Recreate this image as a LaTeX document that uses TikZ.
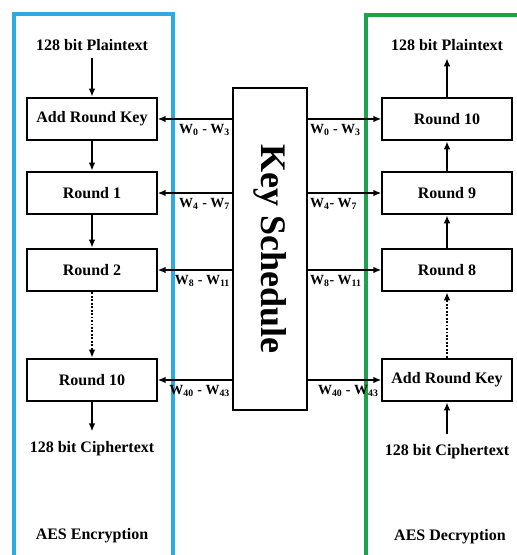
\documentclass[tikz,border=0pt]{standalone}
\usepackage{fontspec}
\setmainfont{Liberation Serif}
\usetikzlibrary{arrows.meta, positioning, calc}
\definecolor{cblue}{HTML}{2AACE2}
\definecolor{cgreen}{HTML}{1FA34A}
\tikzset{
  every picture/.style={font=\bfseries, line width=1.5pt},
  stage/.style={draw, fill=white, minimum width=97pt, minimum height=32pt, inner sep=2pt, font=\bfseries\fontsize{12}{14}\selectfont},
  txt/.style={font=\bfseries\fontsize{12}{14}\selectfont, inner sep=1pt},
  wlbl/.style={font=\bfseries\fontsize{10.5}{12}\selectfont, inner sep=1pt},
  arrow/.style={-{Latex[length=6pt, width=5pt]}, line width=1.5pt},
  dots/.style={dash pattern=on 1.4pt off 1.2pt},
  frame/.style={draw=#1, line width=2.4pt},
}

\begin{document}
\begin{tikzpicture}[x=0.75pt, y=-0.75pt]
  \useasboundingbox (0,0) rectangle (516,555);

  % frames
  \draw[frame=cblue] (14,560) |- (173,14) -- (173,560);
  \draw[frame=cgreen] (366,560) |- (520,15);

  % key schedule
  \node[draw, fill=white, minimum width=55pt, minimum height=241pt] (key) at (270,249) {};
  \node[rotate=-90, font=\bfseries\fontsize{27}{30}\selectfont] (keyt) at (key.center) {Key Schedule};

  % encryption
  \node[txt] (lin) at (92,45) {128 bit Plaintext};
  \node[stage] (lark) at (92,119) {Add Round Key};
  \node[stage] (lr1) at (92,193) {Round 1};
  \node[stage] (lr2) at (92,270) {Round 2};
  \node[stage] (lr10) at (92,380) {Round 10};
  \node[txt] (lout) at (92,449) {128 bit Ciphertext};
  \node[txt] (lname) at (92,536) {AES Encryption};

  % decryption
  \node[txt] (rout) at (447,45) {128 bit Plaintext};
  \node[stage] (rr10) at (447,119) {Round 10};
  \node[stage] (rr9) at (447,193) {Round 9};
  \node[stage] (rr8) at (447,270) {Round 8};
  \node[stage] (rark) at (447,380) {Add Round Key};
  \node[txt] (rin) at (447,452) {128 bit Ciphertext};
  \node[txt] (rname) at (450,537) {AES Decryption};

  % flow
  \draw[arrow, shorten <=4pt] (lin) -- (lark);
  \draw[arrow] (lark) -- (lr1);
  \draw[arrow] (lr1) -- (lr2);
  \draw[arrow, dots] (lr2) -- (lr10);
  \draw[arrow, shorten >=6pt] (lr10) -- (lout);
  \draw[arrow, shorten <=6pt] (rin) -- (rark);
  \draw[arrow, dots] (rark) -- (rr8);
  \draw[arrow] (rr8) -- (rr9);
  \draw[arrow] (rr9) -- (rr10);
  \draw[arrow, shorten >=4pt] (rr10) -- (rout);

  % round keys
  \draw[arrow] (key.west |- lark.east) -- (lark.east);
  \draw[arrow] (key.west |- lr1.east) -- (lr1.east);
  \draw[arrow] (key.west |- lr2.east) -- (lr2.east);
  \draw[arrow] (key.west |- lr10.east) -- (lr10.east);
  \draw[arrow] (key.east |- rr10.west) -- (rr10.west);
  \draw[arrow] (key.east |- rr9.west) -- (rr9.west);
  \draw[arrow] (key.east |- rr8.west) -- (rr8.west);
  \draw[arrow] (key.east |- rark.west) -- (rark.west);

  \node[wlbl, anchor=north east] (lw0) at ([yshift=-2pt]key.west |- lark.east) {W\textsubscript{0} - W\textsubscript{3}};
  \node[wlbl, anchor=north east] (lw4) at ([yshift=-2pt]key.west |- lr1.east) {W\textsubscript{4} - W\textsubscript{7}};
  \node[wlbl, anchor=north east] (lw8) at ([yshift=-2pt]key.west |- lr2.east) {W\textsubscript{8} - W\textsubscript{11}};
  \node[wlbl, anchor=north east] (lw40) at ([yshift=-2pt]key.west |- lr10.east) {W\textsubscript{40} - W\textsubscript{43}};
  \node[wlbl, anchor=north west] (rw0) at ([yshift=-2pt]key.east |- rr10.west) {W\textsubscript{0} - W\textsubscript{3}};
  \node[wlbl, anchor=north west] (rw4) at ([yshift=-2pt]key.east |- rr9.west) {W\textsubscript{4}- W\textsubscript{7}};
  \node[wlbl, anchor=north west] (rw8) at ([yshift=-2pt]key.east |- rr8.west) {W\textsubscript{8}- W\textsubscript{11}};
  \node[wlbl, anchor=north west] (rw40) at ([xshift=6pt, yshift=-2pt]key.east |- rark.west) {W\textsubscript{40} - W\textsubscript{43}};
\end{tikzpicture}
\end{document}
